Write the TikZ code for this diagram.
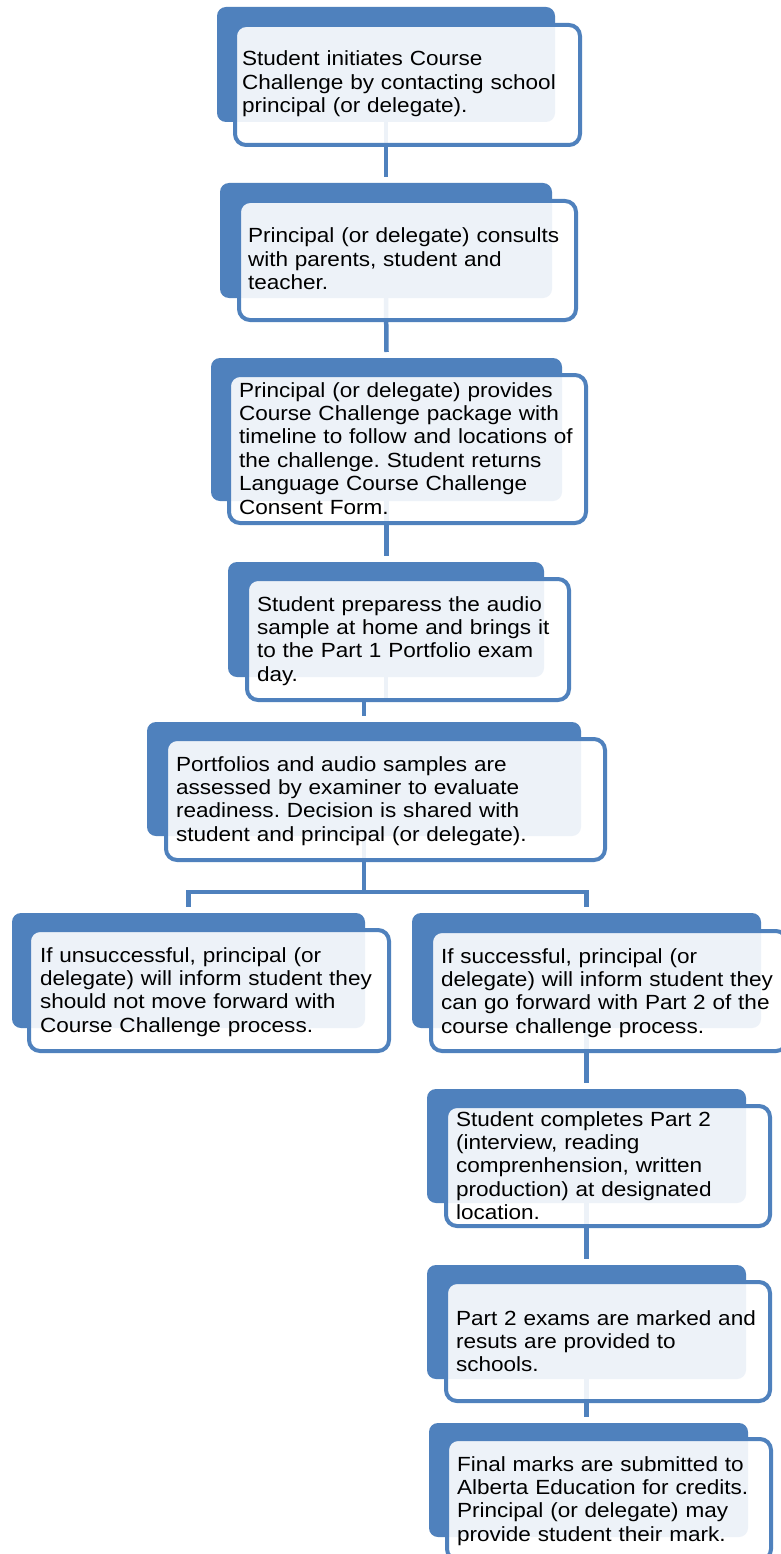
\documentclass[tikz,border=0pt]{standalone}
\usepackage{fontspec}
\setmainfont{Liberation Sans}[FakeStretch=1.1]
\usetikzlibrary{fit,calc}
\pgfdeclarelayer{bg}
\pgfsetlayers{bg,main}
\definecolor{acc}{HTML}{4F81BD}
\frenchspacing
\tikzset{
 backbox/.style={fill=acc, draw=none, rounded corners=9pt, inner sep=0pt, outer sep=0pt},
 frontbox/.style={fill=white, fill opacity=0.9, draw=acc, line width=4pt, rounded corners=11pt, inner sep=0pt, outer sep=0pt},
 txt/.style={anchor=base west, inner sep=0pt, outer sep=0pt, text width=380pt, align=left, font=\fontsize{20.5}{23.4}\selectfont\frenchspacing, text=black},
 conn/.style={draw=acc, line width=4.5pt}
}
\begin{document}
\begin{tikzpicture}[x=1pt,y=-1pt]
\useasboundingbox (0,0) rectangle (781,1554);
% stage 1
\node[backbox, fit={(217,7)(555,122)}] (b1) {};
\node[frontbox, fit={(235,25)(580,145)}] (f1) {};
\node[txt] (t1) at (242,66) {Student initiates Course\\Challenge by contacting school\\principal (or delegate).};
% stage 2
\node[backbox, fit={(220,183)(552,298)}] (b2) {};
\node[frontbox, fit={(239,201)(576,320)}] (f2) {};
\node[txt] (t2) at (248,243) {Principal (or delegate) consults\\with parents, student and\\teacher.};
% stage 3
\node[backbox, fit={(211,358)(562,501)}] (b3) {};
\node[frontbox, fit={(229,375)(586,523)}] (f3) {};
\node[txt] (t3) at (239,397) {Principal (or delegate) provides\\Course Challenge package with\\timeline to follow and locations of\\the challenge. Student returns\\Language Course Challenge\\Consent Form.};
% stage 4
\node[backbox, fit={(228,562)(544,677)}] (b4) {};
\node[frontbox, fit={(247,579)(569,700)}] (f4) {};
\node[txt] (t4) at (257,611) {Student preparess the audio\\sample at home and brings it\\to the Part 1 Portfolio exam\\day.};
% stage 5
\node[backbox, fit={(147,722)(581,836)}] (b5) {};
\node[frontbox, fit={(166,739)(605,860)}] (f5) {};
\node[txt] (t5) at (176,771) {Portfolios and audio samples are\\assessed by examiner to evaluate\\readiness. Decision is shared with\\student and principal (or delegate).};
% stage 6 (left)
\node[backbox, fit={(12,913)(365,1028)}] (b6) {};
\node[frontbox, fit={(29,930)(389,1051)}] (f6) {};
\node[txt] (t6) at (40,962) {If unsuccessful, principal (or\\delegate) will inform student they\\should not move forward with\\Course Challenge process.};
% stage 7 (right)
\node[backbox, fit={(412,913)(761,1028)}] (b7) {};
\node[frontbox, fit={(431,931)(787,1051)}] (f7) {};
\node[txt] (t7) at (441,963) {If successful, principal (or\\delegate) will inform student they\\can go forward with Part 2 of the\\course challenge process.};
% stage 8
\node[backbox, fit={(427,1089)(746,1203)}] (b8) {};
\node[frontbox, fit={(446,1106)(770,1226)}] (f8) {};
\node[txt] (t8) at (456,1126) {Student completes Part 2\\(interview, reading\\comprenhension, written\\production) at designated\\location.};
% stage 9
\node[backbox, fit={(427,1265)(746,1379)}] (b9) {};
\node[frontbox, fit={(446,1282)(770,1401)}] (f9) {};
\node[txt] (t9) at (456,1325) {Part 2 exams are marked and\\resuts are provided to\\schools.};
% stage 10
\node[backbox, fit={(429,1423)(748,1537)}] (b10) {};
\node[frontbox, fit={(447,1439)(771,1560)}] (f10) {};
\node[txt] (t10) at (457,1471) {Final marks are submitted to\\Alberta Education for credits.\\Principal (or delegate) may\\provide student their mark.};
% connectors
\begin{pgfonlayer}{bg}
\fill[white] (0,0) rectangle (781,1554);
\draw[conn] (b1.south) -- ($(b2.north)+(0,-6)$);
\draw[conn] (b2.south) -- ($(b3.north)+(0,-6)$);
\draw[conn] (b3.south) -- ($(b3.south |- b4.north)+(0,-6)$);
\draw[conn] (b4.south) -- (b4.south |- f4.south) -| ($(b5.north)+(0,-6)$);
\coordinate (j) at ($(b5.south)+(0,56)$);
\draw[conn] (b5.south) -- (j);
\draw[conn] (j) -| ($(b6.north)+(0,-6)$);
\draw[conn] (j) -| ($(b7.north)+(0,-6)$);
\draw[conn] (b7.south) -- ($(b8.north)+(0,-6)$);
\draw[conn] (b8.south) -- ($(b9.north)+(0,-6)$);
\draw[conn] (b9.south) -- ($(b9.south |- b10.north)+(0,-6)$);
\end{pgfonlayer}
\end{tikzpicture}
\end{document}
